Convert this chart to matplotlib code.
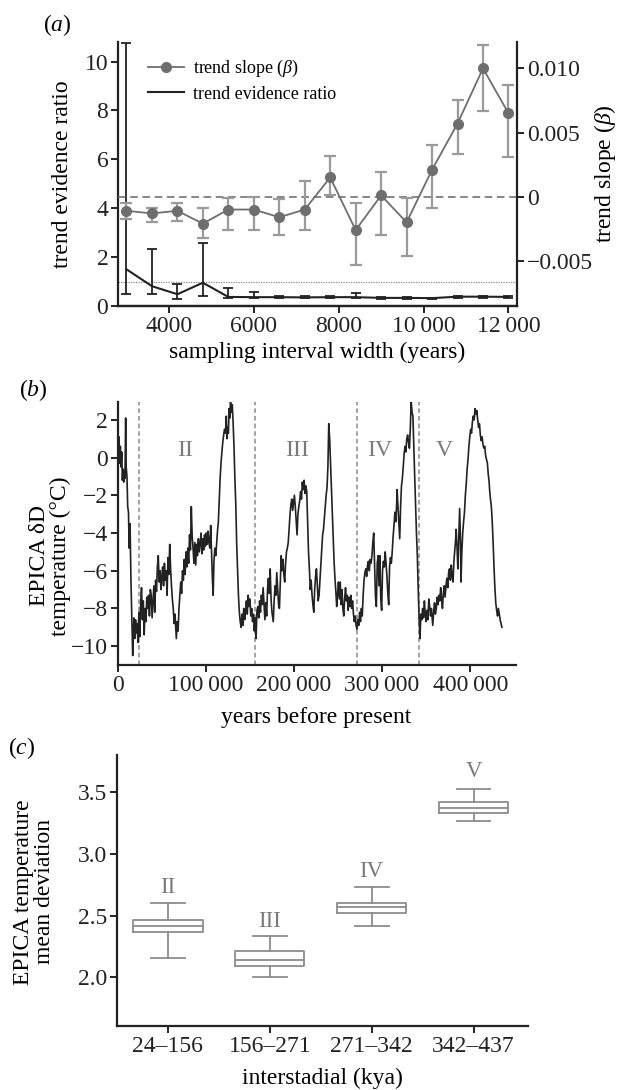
import numpy as np
import matplotlib.pyplot as plt
from matplotlib.ticker import FuncFormatter
from matplotlib.lines import Line2D

# fonts: Times-like serif, mathtext for italic letters
plt.rcParams['font.family'] = ['Liberation Serif', 'DejaVu Serif']
plt.rcParams['mathtext.fontset'] = 'custom'
plt.rcParams['mathtext.rm'] = 'Liberation Serif'
plt.rcParams['mathtext.it'] = 'Liberation Serif:italic'
plt.rcParams['font.size'] = 17

# Panel (a) data
interval_width = [3000, 3600, 4200, 4800, 5400, 6000, 6600, 7200,
                  7800, 8400, 9000, 9600, 10200, 10800, 11400, 12000]
slope = [-0.0011, -0.0013, -0.0011, -0.0021, -0.0010, -0.0010, -0.0016, -0.0010,
         0.0015, -0.0026, 0.0001, -0.0020, 0.0021, 0.0057, 0.0100, 0.0065]
slope_hi = [-0.0005, -0.00085, -0.0005, -0.00085, -0.0001, 0.0000, -0.0002, 0.0012,
            0.0032, -0.0005, 0.0019, -0.0001, 0.0040, 0.0075, 0.0118, 0.0087]
slope_lo = [-0.0017, -0.0020, -0.0019, -0.0032, -0.0026, -0.0026, -0.0030, -0.0026,
            0.0001, -0.0053, -0.0030, -0.0046, -0.0009, 0.0033, 0.0067, 0.0031]
ratio = [1.50, 0.81, 0.48, 0.95, 0.37, 0.36, 0.36, 0.35,
         0.36, 0.36, 0.33, 0.33, 0.32, 0.38, 0.38, 0.37]
ratio_hi = [10.75, 2.35, 0.90, 2.57, 0.75, 0.57, 0.42, 0.40,
            0.40, 0.53, 0.36, 0.36, 0.34, 0.42, 0.42, 0.42]
ratio_lo = [0.49, 0.49, 0.28, 0.40, 0.32, 0.31, 0.32, 0.32,
            0.32, 0.31, 0.30, 0.30, 0.30, 0.34, 0.34, 0.32]

# Panel (b) data: EPICA temperature (kyr BP, degC)
epica_kyr = [0.3, 0.8, 1.5, 2.2, 3.0, 3.8, 4.5, 5.3, 6.0, 6.8, 7.5, 8.2, 9.0, 9.6, 10.5, 11.3,
             12.2, 13.0, 14.0, 15.0, 16.2, 17.0, 17.8, 18.5, 19.3, 20.2, 21.0, 22.0, 23.0, 24.0,
             25.0, 26.0, 27.0, 28.0, 29.0, 30.0, 31.0, 32.0, 33.0, 34.0, 35.0, 36.0, 37.0, 38.0,
             39.0, 40.0, 41.0, 42.0, 43.0, 44.0, 45.0, 46.0, 47.0, 48.0, 49.0, 50.0, 51.0, 52.0,
             53.0, 54.0, 55.0, 56.0, 57.0, 58.0, 59.0, 60.0, 61.0, 62.0, 63.0, 64.0, 65.0, 66.5,
             67.5, 68.5, 69.5, 70.5, 71.5, 72.5, 73.5, 74.5, 75.5, 76.5, 77.5, 78.5, 79.5, 80.5,
             81.5, 82.5, 83.5, 84.5, 85.5, 86.5, 87.5, 88.5, 89.5, 90.5, 91.5, 92.5, 93.5, 94.5,
             95.5, 96.5, 97.5, 98.5, 99.5, 100.5, 101.5, 102.5, 103.5, 104.5, 105.5, 106.5, 107.5,
             108.3, 109.2, 110.2, 111.2, 112.2, 113.2, 114.2, 115.2, 116.2, 117.2, 118.2, 119.2,
             120.2, 121.2, 122.2, 123.2, 124.0, 124.8, 125.6, 126.4, 127.2, 128.0, 129.0, 130.0,
             131.0, 132.0, 133.0, 134.0, 135.0, 136.0, 137.0, 138.0, 139.0, 140.0, 141.0, 142.0,
             143.0, 144.0, 145.0, 146.0, 147.0, 148.0, 149.0, 150.0, 151.0, 152.0, 153.0, 154.0,
             155.0, 156.0, 157.0, 158.0, 159.0, 160.0, 161.0, 162.0, 163.0, 164.0, 165.0, 166.0,
             167.0, 168.0, 169.0, 170.0, 171.0, 172.0, 173.0, 174.0, 175.0, 176.5, 177.5, 178.5,
             179.5, 180.5, 181.5, 182.5, 183.5, 184.5, 185.5, 186.5, 187.5, 188.5, 189.5, 190.5,
             191.5, 192.5, 193.5, 194.5, 195.5, 196.5, 197.5, 198.5, 199.5, 200.5, 201.5, 202.5,
             203.5, 204.5, 205.5, 206.5, 207.5, 208.5, 209.5, 210.5, 211.5, 212.5, 213.5, 214.5,
             215.5, 216.5, 217.5, 218.5, 219.5, 220.5, 221.5, 222.5, 223.5, 224.5, 225.5, 226.5,
             227.5, 228.5, 229.5, 230.5, 231.5, 232.5, 233.5, 234.5, 235.5, 236.5, 237.5, 238.5,
             239.5, 240.5, 241.5, 242.5, 243.5, 244.5, 245.5, 246.5, 247.5, 248.5, 249.5, 250.5,
             251.5, 252.5, 253.5, 254.5, 255.5, 256.5, 257.5, 258.5, 259.5, 260.5, 261.5, 262.5,
             263.5, 264.5, 265.5, 266.5, 267.5, 268.5, 269.5, 270.5, 271.5, 272.5, 273.5, 274.5,
             275.5, 276.5, 277.5, 278.5, 279.5, 280.5, 281.5, 282.5, 283.5, 284.5, 285.5, 286.5,
             287.5, 288.5, 289.5, 290.5, 291.5, 292.5, 293.5, 294.5, 295.5, 296.5, 297.5, 298.5,
             299.5, 300.5, 301.5, 302.5, 303.5, 304.5, 305.5, 306.5, 307.5, 308.5, 309.5, 310.5,
             311.5, 312.5, 313.5, 314.5, 315.5, 316.5, 317.0, 318.0, 319.0, 320.0, 321.0, 322.0,
             323.0, 324.0, 325.0, 326.0, 327.0, 328.0, 329.0, 330.0, 331.0, 332.0, 333.0, 334.0,
             335.0, 336.0, 337.0, 338.0, 339.0, 340.0, 341.0, 342.0, 343.0, 344.0, 345.0, 346.0,
             347.0, 348.0, 349.0, 350.0, 351.0, 352.0, 353.0, 354.0, 355.0, 356.0, 357.5, 358.5,
             359.5, 360.5, 361.5, 362.5, 363.5, 364.5, 365.5, 366.5, 367.5, 368.5, 369.5, 370.5,
             371.5, 372.5, 373.5, 374.5, 375.5, 376.5, 377.5, 378.5, 379.5, 380.5, 381.5, 382.5,
             383.5, 384.0, 385.0, 386.0, 387.0, 388.0, 389.0, 389.5, 390.5, 391.5, 392.5, 393.5,
             394.5, 395.5, 396.5, 397.5, 398.5, 399.5, 400.5, 401.5, 402.5, 403.5, 404.5, 405.5,
             406.5, 407.5, 408.5, 409.5, 410.5, 411.5, 412.5, 413.5, 414.5, 415.5, 416.5, 417.5,
             418.5, 419.5, 420.5, 421.5, 422.0, 423.0, 424.0, 425.0, 426.0, 427.0, 428.0, 429.0,
             430.0, 431.0, 432.0, 433.0, 434.0, 435.0, 436.0]
epica_temp = [1.3, 0.2, 1.1, -0.3, 0.6, -0.5, 0.3, -1.2, -0.6, -1.3, -0.7, -1.1, 2.1, -0.5, -1.0, -2.6,
              -2.9, -4.8, -3.5, -6.5, -9.0, -10.5, -9.2, -8.5, -9.6, -8.6, -9.3, -8.8, -9.8, -8.2,
              -9.5, -7.8, -6.9, -8.6, -7.6, -9.4, -8.0, -8.7, -7.4, -8.0, -7.3, -8.4, -7.0, -7.3,
              -8.5, -7.6, -6.8, -8.2, -6.5, -7.1, -5.8, -5.2, -6.6, -6.0, -7.0, -6.3, -5.8, -6.8,
              -5.6, -6.5, -6.0, -7.3, -5.3, -6.2, -4.6, -5.9, -6.8, -7.5, -8.0, -8.8, -8.3, -9.6,
              -8.7, -9.2, -8.0, -7.3, -6.6, -7.2, -6.0, -6.5, -5.4, -6.2, -5.0, -5.8, -4.8, -5.6,
              -4.1, -4.9, -2.6, -4.2, -4.8, -5.6, -4.5, -5.7, -4.6, -5.2, -4.3, -5.0, -4.6, -4.0,
              -5.1, -4.3, -4.9, -4.1, -4.7, -4.0, -4.6, -3.9, -4.5, -4.8, -3.6, -5.0, -6.5,
              -7.3, -5.5, -4.8, -5.2, -4.6, -3.9, -3.4, -2.2, -1.1, -0.3, 0.3, 0.8,
              1.2, 1.5, 1.3, 2.2, 1.0, 1.6, 1.3, 2.6, 2.1, 3.0, 2.4, 2.8,
              1.8, 0.5, -1.2, -2.5, -4.6, -6.0, -7.3, -8.2, -8.7, -9.0, -8.3, -8.9,
              -8.0, -8.6, -8.2, -7.6, -8.3, -7.3, -7.9, -7.5, -8.4, -8.0, -8.7, -8.3,
              -9.2, -8.5, -9.6, -8.1, -7.9, -8.5, -7.6, -8.2, -7.3, -7.8, -6.9, -7.8,
              -8.6, -7.7, -8.4, -7.0, -6.4, -7.2, -5.9, -7.5, -8.2, -8.7, -7.6, -6.8,
              -7.3, -6.1, -7.0, -7.8, -8.0, -6.6, -5.2, -6.0, -5.4, -6.2, -6.6, -5.6,
              -5.0, -4.8, -4.5, -3.8, -3.0, -2.5, -2.2, -2.8, -2.4, -2.0, -2.6, -3.4,
              -4.1, -3.0, -2.6, -2.3, -1.8, -2.2, -1.3, -1.7, -1.2, -1.9, -1.5, -1.8,
              -3.5, -5.0, -5.9, -7.0, -6.5, -7.3, -7.8, -8.2, -7.0, -6.3, -5.9, -6.8,
              -7.6, -7.3, -6.5, -5.8, -4.9, -4.1, -3.8, -3.2, -2.6, -2.0, -1.6, -0.5,
              1.8, 1.0, -0.3, -1.6, -3.0, -4.2, -5.5, -6.4, -7.1, -7.9, -7.2, -6.6,
              -7.5, -6.6, -7.8, -7.0, -8.0, -8.4, -7.5, -6.9, -7.6, -7.3, -8.1, -7.4,
              -7.9, -7.3, -8.0, -7.6, -8.3, -8.7, -8.4, -8.9, -9.1, -8.6, -8.9, -8.2,
              -8.7, -8.0, -8.4, -7.3, -6.5, -6.1, -5.9, -6.3, -5.7, -5.5, -6.0, -5.4,
              -5.6, -5.2, -4.5, -4.0, -5.8, -7.4, -7.9, -5.6, -5.2, -6.8, -5.2, -7.5,
              -8.1, -6.0, -5.5, -5.8, -5.0, -5.6, -6.3, -7.2, -7.8, -5.8, -5.3, -5.6,
              -5.0, -4.2, -3.6, -2.9, -3.4, -2.5, -1.7, -2.6, -3.5, -4.3, -2.6, -1.5,
              -1.1, -0.5, 0.2, 0.6, 0.3, 1.0, 1.2, 0.8, 0.5, 1.5, 3.0, 2.4,
              2.2, 0.5, -1.0, -2.6, -4.0, -5.2, -7.0, -8.5, -9.6, -8.3, -8.6, -8.0,
              -8.5, -7.6, -8.3, -8.7, -8.1, -8.6, -7.5, -7.9, -8.4, -8.0, -8.9, -8.2,
              -7.7, -8.3, -8.0, -7.4, -7.8, -7.3, -7.6, -6.9, -7.5, -8.0, -7.2, -6.8,
              -7.4, -6.8, -6.4, -6.9, -6.1, -5.9, -6.5, -5.7, -6.3, -6.6, -5.5, -4.9,
              -4.3, -3.8, -4.7, -5.9, -4.2, -2.7, -4.5, -6.6, -5.0, -4.0, -3.4, -2.9,
              -2.0, -1.4, -0.6, -0.1, 0.6, 1.1, 1.5, 1.3, 1.9, 2.2, 2.0, 2.6,
              2.3, 2.5, 2.0, 1.6, 1.8, 1.2, 0.9, 1.1, 0.7, 0.5, 0.6, 0.1,
              -0.1, -0.3, -0.9, -1.3, -1.7, -2.2, -2.6, -3.4, -4.5, -5.8, -6.9, -7.7,
              -8.1, -8.4, -8.0, -8.3, -8.6, -8.8, -9.0]
stadial_bounds = [24000, 156000, 271000, 342000]
stadial_names = ['II', 'III', 'IV', 'V']
stadial_label_x = [76000, 204000, 297000, 371000]

# Panel (c) data
interval_labels = ['24\u2013156', '156\u2013271', '271\u2013342', '342\u2013437']
box_q1 = [2.363, 2.094, 2.524, 3.328]
box_med = [2.417, 2.142, 2.565, 3.368]
box_q3 = [2.465, 2.215, 2.600, 3.414]
whisk_lo = [2.160, 2.005, 2.417, 3.260]
whisk_hi = [2.605, 2.336, 2.734, 3.519]
box_label_y = [2.73, 2.45, 2.855, 3.66]

grey_dark = '#6e6e6e'
grey_light = '#9a9a9a'
ink = '#222222'

fig = plt.figure(figsize=(6.18, 10.9), dpi=100)


def style_axis(ax, right=False):
    ax.spines['top'].set_visible(False)
    if not right:
        ax.spines['right'].set_visible(False)
    for s in ax.spines.values():
        s.set_linewidth(1.6)
        s.set_color(ink)
    ax.tick_params(direction='out', length=5, width=1.4, labelsize=17, pad=2, colors=ink)


def thin_space_fmt(v, pos):
    v = int(round(v))
    if v >= 10000:
        return f'{v // 1000}\u2009{v % 1000:03d}'
    return str(v)


# ---------------- panel (a)
ax_a = fig.add_axes([0.1909, 0.7193, 0.6456, 0.2422])
ax_s = ax_a.twinx()
style_axis(ax_a)
style_axis(ax_s, right=True)
ax_s.spines['left'].set_visible(False)

ax_a.axhline(1, color='#888888', lw=0.9, ls=(0, (1, 1)))
ax_a.errorbar(interval_width, ratio,
              yerr=[np.array(ratio) - np.array(ratio_lo), np.array(ratio_hi) - np.array(ratio)],
              color=ink, lw=1.5, elinewidth=1.3, capsize=3.5, capthick=1.3)
ax_a.set_ylim(0, 10.8)
ax_a.set_yticks([0, 2, 4, 6, 8, 10])
ax_a.set_xlim(2800, 12200)
ax_a.set_xticks([4000, 6000, 8000, 10000, 12000])
ax_a.xaxis.set_major_formatter(FuncFormatter(thin_space_fmt))

ax_s.axhline(0, color='#666666', lw=1.1, ls=(0, (5, 3)))
ax_s.errorbar(interval_width, slope,
              yerr=[np.array(slope) - np.array(slope_lo), np.array(slope_hi) - np.array(slope)],
              color=grey_dark, lw=1.3, marker='o', ms=7, ecolor=grey_light,
              elinewidth=1.6, capsize=4.5, capthick=1.6)
ax_s.set_ylim((0 - 4.47) / 525, (10.8 - 4.47) / 525)
ax_s.set_yticks([-0.005, 0, 0.005, 0.010])
ax_s.yaxis.set_major_formatter(FuncFormatter(
    lambda v, p: '0' if abs(v) < 1e-9 else ('\u2212' if v < 0 else '') + f'{abs(v):.3f}'))

handles = [Line2D([], [], color=grey_dark, marker='o', ms=7, lw=1.3),
           Line2D([], [], color=ink, lw=1.5)]
ax_s.legend(handles, [r'trend slope ($\beta$)', 'trend evidence ratio'],
            loc='upper left', bbox_to_anchor=(0.035, 1.0), frameon=False,
            fontsize=13, handlelength=2.0, handletextpad=0.5, labelspacing=0.35)

fig.text(62 / 618, 1 - 174 / 1090, 'trend evidence ratio', rotation=90,
         ha='center', va='center', fontsize=17)
fig.text(605 / 618, 1 - 174 / 1090, r'trend slope ($\beta$)', rotation=90,
         ha='center', va='center', fontsize=17)
fig.text(317 / 618, 1 - 352 / 1090, 'sampling interval width (years)',
         ha='center', va='center', fontsize=17)
fig.text(57 / 618, 1 - 25 / 1090, r'($a$)', ha='center', va='center', fontsize=17)

# ---------------- panel (b)
ax_b = fig.add_axes([0.1905, 0.3899, 0.6445, 0.2413])
style_axis(ax_b)
for xb in stadial_bounds:
    ax_b.axvline(xb, color='#8a8a8a', lw=1.1, ls=(0, (3, 2)))
ax_b.plot(np.array(epica_kyr) * 1000, epica_temp, color=ink, lw=1.2)
for name, xl in zip(stadial_names, stadial_label_x):
    ax_b.text(xl, 0.4, name, color='#7a7a7a', fontsize=17, ha='center', va='center')
ax_b.set_xlim(0, 452000)
ax_b.set_ylim(-11, 2.95)
ax_b.set_xticks([0, 100000, 200000, 300000, 400000])
ax_b.set_yticks([-10, -8, -6, -4, -2, 0, 2])
ax_b.xaxis.set_major_formatter(FuncFormatter(thin_space_fmt))

fig.text(50 / 618, 1 - 556 / 1090, 'EPICA \u03b4D\ntemperature (\u00b0C)', rotation=90,
         ha='center', va='center', fontsize=17, linespacing=1.0)
fig.text(316 / 618, 1 - 717 / 1090, 'years before present',
         ha='center', va='center', fontsize=17)
fig.text(33 / 618, 1 - 390 / 1090, r'($b$)', ha='center', va='center', fontsize=17)

# ---------------- panel (c)
ax_c = fig.add_axes([0.1893, 0.0587, 0.6644, 0.2486])
style_axis(ax_c)
stats = []
for i in range(len(interval_labels)):
    stats.append(dict(med=box_med[i], q1=box_q1[i], q3=box_q3[i],
                      whislo=whisk_lo[i], whishi=whisk_hi[i], fliers=[]))
line_kw = dict(color='#8c8c8c', lw=1.3)
ax_c.bxp(stats, positions=range(len(stats)), widths=0.68, capwidths=0.33,
         boxprops=line_kw, medianprops=line_kw, whiskerprops=line_kw,
         capprops=line_kw, showfliers=False)
for i, name in enumerate(stadial_names):
    ax_c.text(i, box_label_y[i], name, color='#7a7a7a', fontsize=16.5,
              ha='center', va='center')
ax_c.set_xlim(-0.5, 3.53)
ax_c.set_ylim(1.607, 3.797)
ax_c.set_yticks([2.0, 2.5, 3.0, 3.5])
ax_c.set_xticks(range(len(interval_labels)))
ax_c.set_xticklabels(interval_labels)
ax_c.yaxis.set_major_formatter(FuncFormatter(lambda v, p: f'{v:.1f}'))

fig.text(34 / 618, 1 - 892 / 1090, 'EPICA temperature\nmean deviation', rotation=90,
         ha='center', va='center', fontsize=17, linespacing=1.0)
fig.text(322 / 618, 1 - 1078 / 1090, 'interstadial (kya)',
         ha='center', va='center', fontsize=17)
fig.text(22 / 618, 1 - 748 / 1090, r'($c$)', ha='center', va='center', fontsize=17)

fig.savefig('out.png', dpi=100)
